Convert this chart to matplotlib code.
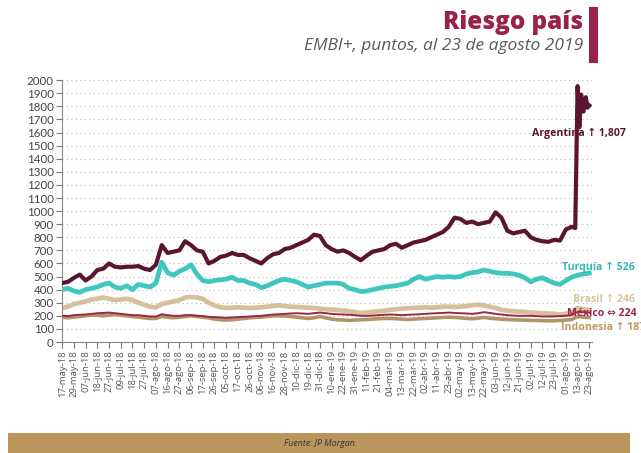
import matplotlib
matplotlib.use('Agg')
import matplotlib.pyplot as plt
import numpy as np

# fechas (etiquetas del eje x), una cada 7 días hábiles
fechas = ['17-may-18', '29-may-18', '07-jun-18', '18-jun-18', '27-jun-18', '09-jul-18',
          '18-jul-18', '27-jul-18', '07-ago-18', '16-ago-18', '27-ago-18', '06-sep-18',
          '17-sep-18', '26-sep-18', '05-oct-18', '17-oct-18', '26-oct-18', '06-nov-18',
          '16-nov-18', '28-nov-18', '10-dic-18', '19-dic-18', '31-dic-18', '10-ene-19',
          '22-ene-19', '31-ene-19', '11-feb-19', '21-feb-19', '04-mar-19', '13-mar-19',
          '22-mar-19', '02-abr-19', '11-abr-19', '23-abr-19', '02-may-19', '13-may-19',
          '22-may-19', '03-jun-19', '12-jun-19', '21-jun-19', '02-jul-19', '12-jul-19',
          '23-jul-19', '01-ago-19', '13-ago-19', '23-ago-19']

# posiciones de lectura: cada media etiqueta
t = [i / 2 for i in range(91)]

argentina = [450, 460, 490, 515, 470, 500, 550, 560, 600, 575, 570, 575, 575, 580, 560, 550,
             590, 740, 680, 690, 700, 770, 740, 700, 690, 600, 620, 650, 660, 680, 665, 665,
             640, 620, 600, 640, 670, 680, 710, 720, 740, 760, 780, 820, 810, 740, 710, 690,
             700, 680, 650, 625, 660, 690, 700, 710, 740, 750, 720, 740, 760, 770, 780, 800,
             820, 840, 880, 950, 940, 910, 920, 900, 910, 920, 990, 950, 850, 830, 840, 850,
             800, 780, 770, 765, 780, 775, 860, 880]
# tramo final (PASO, agosto 2019)
argentina_t_fin = [43.8, 44.0, 44.15, 44.3, 44.5, 44.7, 44.85, 45.0]
argentina_fin = [870, 1955, 1640, 1890, 1760, 1870, 1790, 1807]

turquia = [400, 410, 390, 380, 400, 410, 420, 440, 450, 420, 410, 430, 400, 440, 430, 420,
           450, 610, 530, 510, 540, 560, 590, 520, 470, 460, 470, 475, 480, 495, 470, 470,
           450, 440, 415, 430, 450, 470, 480, 470, 460, 440, 420, 430, 440, 450, 450, 450,
           440, 410, 400, 385, 390, 400, 410, 420, 425, 430, 440, 450, 480, 500, 480, 490,
           500, 495, 500, 495, 500, 520, 530, 535, 550, 540, 530, 525, 525, 520, 510, 490,
           460, 480, 490, 470, 450, 440, 470, 495, 510, 520, 526]

brasil = [260, 270, 290, 300, 310, 325, 330, 340, 330, 320, 325, 330, 320, 300, 285, 270,
          265, 290, 300, 310, 320, 340, 345, 340, 330, 300, 280, 265, 260, 262, 265, 262,
          260, 262, 265, 270, 275, 280, 275, 270, 268, 265, 262, 260, 255, 250, 248, 244,
          240, 235, 228, 222, 225, 230, 235, 240, 245, 250, 255, 258, 260, 262, 265, 262,
          265, 270, 270, 268, 270, 275, 280, 285, 280, 270, 260, 245, 240, 235, 232, 230,
          225, 222, 220, 218, 215, 210, 215, 230, 260, 250, 246]

mexico = [200, 198, 205, 208, 210, 215, 220, 222, 225, 220, 215, 210, 205, 205, 200, 195,
          195, 212, 205, 200, 200, 205, 205, 200, 198, 192, 190, 188, 185, 188, 190, 192,
          195, 198, 200, 205, 210, 212, 215, 218, 220, 218, 215, 220, 225, 220, 215, 212,
          210, 208, 205, 200, 200, 202, 205, 208, 210, 208, 205, 208, 210, 212, 215, 218,
          220, 222, 225, 222, 220, 218, 215, 220, 228, 222, 215, 210, 205, 202, 200, 200,
          200, 198, 195, 195, 195, 198, 200, 205, 230, 228, 224]

indonesia = [190, 185, 190, 195, 200, 205, 205, 200, 205, 210, 205, 200, 195, 190, 185, 180,
             180, 195, 190, 185, 190, 195, 200, 195, 190, 185, 175, 170, 168, 170, 175, 180,
             185, 188, 190, 195, 200, 200, 198, 195, 190, 185, 180, 185, 195, 185, 175, 170,
             168, 165, 168, 170, 172, 175, 178, 180, 180, 178, 175, 172, 175, 178, 180, 182,
             185, 188, 190, 188, 185, 180, 178, 182, 188, 182, 178, 175, 172, 170, 168, 168,
             165, 165, 163, 162, 162, 165, 168, 172, 195, 190, 187]

C_ARG = '#5b1530'
C_TUR = '#3ec6bf'
C_BRA = '#d6c09c'
C_MEX = '#9a2848'
C_IND = '#b39468'
GUINDA = '#9b2247'
DORADO = '#bc955c'

fig = plt.figure(figsize=(6.41, 4.53), dpi=100)
ax = fig.add_axes([0.097, 0.245, 0.826, 0.578])

ax.plot(t, brasil, color=C_BRA, lw=3.4, zorder=2)
ax.plot(t, indonesia, color=C_IND, lw=2.6, zorder=3)
ax.plot(t, mexico, color=C_MEX, lw=1.4, zorder=4)
ax.plot(t, turquia, color=C_TUR, lw=3.4, zorder=5)
arg_t = t[:88] + argentina_t_fin
arg_v = argentina + argentina_fin
ax.plot(arg_t, arg_v, color=C_ARG, lw=3.0, zorder=6)

ax.set_xlim(0, 45.2)
ax.set_ylim(0, 2000)
ax.set_yticks(range(0, 2001, 100))
ax.set_xticks(range(len(fechas)))
ax.set_xticklabels(fechas, rotation=90, fontsize=6.8, color='#555555', family='Open Sans')
for lab in ax.get_yticklabels():
    lab.set_fontsize(8.3)
    lab.set_color('#444444')
    lab.set_family('Lato')
ax.tick_params(axis='both', length=4, color='#777777', pad=2)
ax.grid(axis='y', color='#b8b8b8', linestyle=(0, (1, 3)), lw=0.8)
ax.set_axisbelow(True)
for s in ['top', 'right']:
    ax.spines[s].set_visible(False)
for s in ['left', 'bottom']:
    ax.spines[s].set_color('#888888')
    ax.spines[s].set_linewidth(0.8)

fam = ['Open Sans', 'DejaVu Sans']
kw = dict(fontsize=7.6, fontweight='bold', family=fam, va='center', ha='left', clip_on=False, zorder=10)
ax.text(40.1, 1595, 'Argentina ↑ 1,807', color=C_ARG, **kw)
ax.text(42.7, 572, 'Turquía ↑ 526', color='#33b8b2', **kw)
ax.text(43.6, 322, 'Brasil ↑ 246', color='#d9c4a0', **kw)
ax.text(43.1, 214, 'México ⇔ 224', color=C_MEX, **kw)
ax.text(42.6, 112, 'Indonesia ↑ 187', color='#c09a5c', **kw)

# encabezado
fig.text(0.910, 0.950, 'Riesgo país', fontsize=17.5, fontweight='heavy', color=GUINDA,
         family='Open Sans', ha='right', va='center')
fig.text(0.910, 0.898, 'EMBI+, puntos, al 23 de agosto 2019', fontsize=12.5, style='italic',
         color='#5a5a5a', family='Open Sans', ha='right', va='center')
fig.add_artist(plt.Rectangle((0.919, 0.862), 0.014, 0.122, transform=fig.transFigure,
                             color=GUINDA, lw=0))

# pie
fig.add_artist(plt.Rectangle((0.0125, 0.0), 0.970, 0.044, transform=fig.transFigure,
                             color=DORADO, lw=0))
fig.text(0.5, 0.010, 'Fuente: JP Morgan.', fontsize=6.4, style='italic', color='#333333',
         family='Open Sans', ha='center', va='bottom')

plt.savefig('out.png', dpi=100)
